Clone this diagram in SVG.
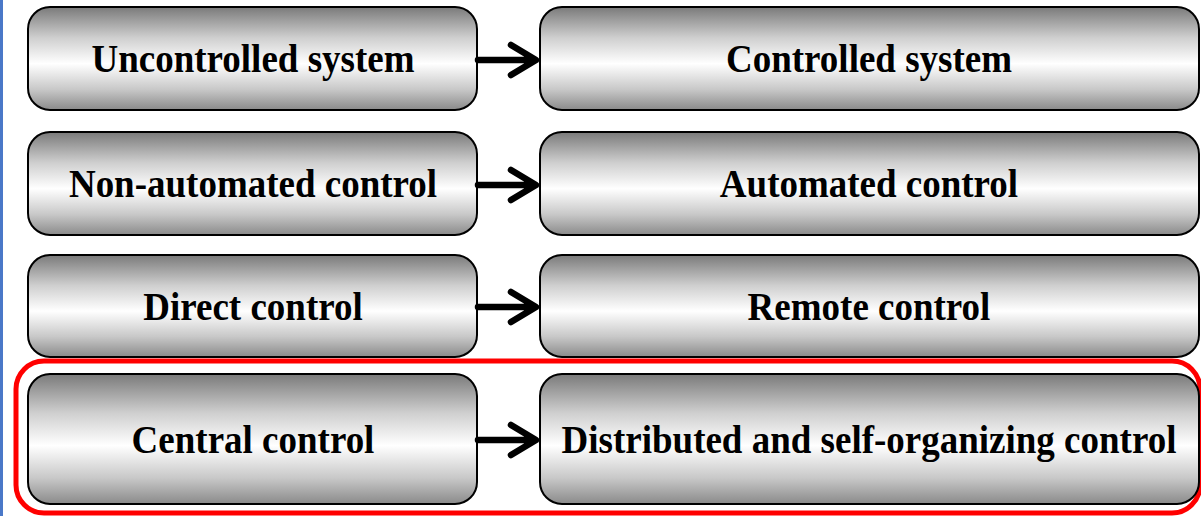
<svg xmlns="http://www.w3.org/2000/svg" width="1201" height="516" viewBox="0 0 1201 516">
  <defs>
    <linearGradient id="metal" x1="0" y1="0" x2="0" y2="1">
      <stop offset="0" stop-color="#7a7a7a"/>
      <stop offset="0.3" stop-color="#cfcfcf"/>
      <stop offset="0.55" stop-color="#ffffff"/>
      <stop offset="0.8" stop-color="#c8c8c8"/>
      <stop offset="1" stop-color="#8a8a8a"/>
    </linearGradient>
  </defs>
  <style>
    .box { fill: url(#metal); stroke: #000; stroke-width: 2; }
    .lbl { font-family: "Liberation Serif", "Times New Roman", serif; font-weight: bold; font-size: 37px; fill: #000; text-anchor: middle; }
    .arr { fill: none; stroke: #000; stroke-width: 6.5; stroke-linecap: round; stroke-linejoin: round; }
  </style>
  <rect width="1201" height="516" fill="#fff"/>
  <rect x="0" y="0" width="3" height="516" fill="#4a78c8"/>
  <rect id="highlight" x="16" y="361" width="1184" height="152" rx="28" ry="28" fill="none" stroke="#ff0000" stroke-width="5"/>

  <g id="n1"><rect class="box" x="28" y="7" width="449" height="103" rx="22"/><text class="lbl" transform="translate(253 72) scale(1 1.08)">Uncontrolled system</text></g>
  <g id="n2"><rect class="box" x="540" y="7" width="659" height="103" rx="22"/><text class="lbl" transform="translate(869 72) scale(1 1.08)">Controlled system</text></g>
  <g id="n3"><rect class="box" x="28" y="132" width="449" height="103" rx="22"/><text class="lbl" transform="translate(253 197) scale(1 1.08)">Non-automated control</text></g>
  <g id="n4"><rect class="box" x="540" y="132" width="659" height="103" rx="22"/><text class="lbl" transform="translate(869 197) scale(1 1.08)">Automated control</text></g>
  <g id="n5"><rect class="box" x="28" y="255" width="449" height="102" rx="22"/><text class="lbl" transform="translate(253 320) scale(1 1.08)">Direct control</text></g>
  <g id="n6"><rect class="box" x="540" y="255" width="659" height="102" rx="22"/><text class="lbl" transform="translate(869 320) scale(1 1.08)">Remote control</text></g>
  <g id="n7"><rect class="box" x="28" y="374" width="449" height="130" rx="22"/><text class="lbl" transform="translate(253 453) scale(1 1.08)">Central control</text></g>
  <g id="n8"><rect class="box" x="540" y="374" width="659" height="130" rx="22"/><text class="lbl" transform="translate(869 453) scale(1 1.08)">Distributed and self-organizing control</text></g>

  <g id="connectors">
    <path class="arr" d="M478 60 H535 M511 45 L536 60 L511 75"/>
    <path class="arr" d="M478 185 H535 M511 170 L536 185 L511 200"/>
    <path class="arr" d="M478 307 H535 M511 292 L536 307 L511 322"/>
    <path class="arr" d="M478 440 H535 M511 425 L536 440 L511 455"/>
  </g>
</svg>
